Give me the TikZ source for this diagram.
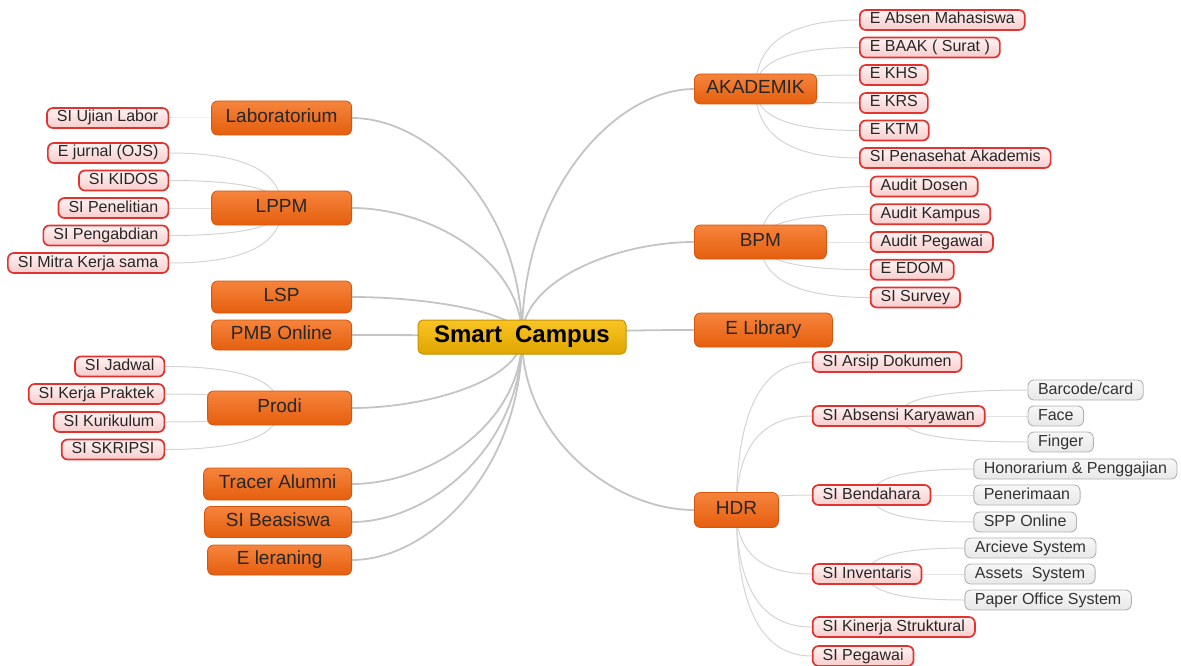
\documentclass[tikz,border=0pt]{standalone}
\usepackage{fontspec}
\setmainfont{Liberation Sans}
\usetikzlibrary{positioning,backgrounds,calc}

\definecolor{orangetop}{HTML}{F6843C}
\definecolor{orangebot}{HTML}{E55E0E}
\definecolor{orangeline}{HTML}{D5560B}
\definecolor{goldtop}{HTML}{F8C524}
\definecolor{goldbot}{HTML}{E0A500}
\definecolor{goldline}{HTML}{C69200}
\definecolor{leafred}{HTML}{E2332F}
\definecolor{leaftop}{HTML}{FFF2F2}
\definecolor{leafbot}{HTML}{F7CDCD}
\definecolor{twiggrey}{HTML}{D4D4D4}
\definecolor{limbgrey}{HTML}{C4C4C4}

\tikzset{
  hub/.style={draw=goldline, line width=1pt, rounded corners=5pt,
    top color=goldtop, bottom color=goldbot,
    font=\fontsize{24}{27}\selectfont\bfseries,
    minimum width=208pt, minimum height=34pt},
  topic/.style={draw=orangeline, line width=0.8pt, rounded corners=6pt,
    top color=orangetop, bottom color=orangebot, text=black!85,
    font=\fontsize{19}{21}\selectfont, minimum height=32pt,
    text height=13.5pt, text depth=4pt, inner xsep=12pt},
  leaf/.style={draw=leafred, line width=1.7pt, rounded corners=6pt,
    top color=leaftop, bottom color=leafbot, text=black!85,
    font=\fontsize{16}{18}\selectfont, minimum height=20pt,
    text height=11.5pt, text depth=3.5pt, inner ysep=1pt, inner xsep=10pt},
  subleaf/.style={leaf, draw=black!30, line width=0.9pt,
    top color=black!3, bottom color=black!9, text=black!80},
  limb/.style={draw=limbgrey, line width=1.8pt,
    to path={.. controls ($(\tikztostart)!.6!(\tikztostart |- \tikztotarget)$)
      and ($(\tikztotarget)!.45!(\tikztostart |- \tikztotarget)$) .. (\tikztotarget)}},
  twig/.style={draw=twiggrey, line width=1pt,
    to path={.. controls ($(\tikztostart)!.667!(\tikztostart |- \tikztotarget)$)
      and ($(\tikztotarget)!.667!(\tikztostart |- \tikztotarget)$) .. (\tikztotarget)}}
}

\begin{document}
\begin{tikzpicture}[x=1pt, y=-1pt, node distance=42pt]
  \useasboundingbox (0,0) rectangle (1181,666);

  \node[hub] (hub) at (522,337) {Smart\hspace{13pt}Campus};

  % left topics
  \node[topic, anchor=east, minimum width=140pt, minimum height=34pt] (lab) at (352,118) {Laboratorium};
  \node[topic, anchor=east, minimum width=140pt, minimum height=34pt] (lppm) at (352,208) {LPPM};
  \node[topic, anchor=east, minimum width=140pt] (lsp) at (352,297) {LSP};
  \node[topic, anchor=east, minimum width=140pt, minimum height=30pt] (pmb) at (352,335) {PMB Online};
  \node[topic, anchor=east, minimum width=144pt, minimum height=34pt] (prodi) at (352,408) {Prodi};
  \node[topic, anchor=east, minimum width=148pt] (tracer) at (352,484) {Tracer Alumni};
  \node[topic, anchor=east, minimum width=147pt, minimum height=31pt] (beasiswa) at (352,522) {SI Beasiswa};
  \node[topic, anchor=east, minimum width=144pt, minimum height=30pt] (elearn) at (352,560) {E leraning};

  % right topics
  \node[topic, anchor=west, minimum width=118pt, minimum height=30pt] (akad) at (694,89) {AKADEMIK};
  \node[topic, anchor=west, minimum width=132pt, minimum height=34pt] (bpm) at (694,242) {BPM};
  \node[topic, anchor=west, minimum width=138pt, minimum height=34pt] (elib) at (694,330) {E Library};
  \node[topic, anchor=west, minimum width=84pt, minimum height=35pt] (hdr) at (694,510) {HDR};

  % Laboratorium
  \node[leaf, left=of lab] (ujian) {SI Ujian Labor};

  % LPPM
  \node[leaf, left=of lppm, yshift=55pt] (ojs) {E jurnal (OJS)};
  \node[leaf, left=of lppm, yshift=27.5pt] (kidos) {SI KIDOS};
  \node[leaf, left=of lppm] (penelitian) {SI Penelitian};
  \node[leaf, left=of lppm, yshift=-27.5pt] (pengabdian) {SI Pengabdian};
  \node[leaf, left=of lppm, yshift=-55pt] (mitra) {SI Mitra Kerja sama};

  % Prodi
  \node[leaf, left=of prodi, yshift=41.5pt] (jadwal) {SI Jadwal};
  \node[leaf, left=of prodi, yshift=14pt] (kp) {SI Kerja Praktek};
  \node[leaf, left=of prodi, yshift=-14pt] (kurikulum) {SI Kurikulum};
  \node[leaf, left=of prodi, yshift=-41.5pt] (skripsi) {SI SKRIPSI};

  % AKADEMIK
  \node[leaf, right=of akad, yshift=69pt] (absen) {E Absen Mahasiswa};
  \node[leaf, right=of akad, yshift=41.5pt] (baak) {E BAAK ( Surat )};
  \node[leaf, right=of akad, yshift=14pt] (khs) {E KHS};
  \node[leaf, right=of akad, yshift=-14pt] (krs) {E KRS};
  \node[leaf, right=of akad, yshift=-41.5pt] (ktm) {E KTM};
  \node[leaf, right=of akad, yshift=-69pt] (pa) {SI Penasehat Akademis};

  % BPM
  \node[leaf, right=43pt of bpm, yshift=55.5pt] (adosen) {Audit Dosen};
  \node[leaf, right=43pt of bpm, yshift=27.75pt] (akampus) {Audit Kampus};
  \node[leaf, right=43pt of bpm] (apegawai) {Audit Pegawai};
  \node[leaf, right=43pt of bpm, yshift=-27.75pt] (edom) {E EDOM};
  \node[leaf, right=43pt of bpm, yshift=-55.5pt] (survey) {SI Survey};

  % HDR
  \node[leaf, right=33pt of hdr, yshift=148pt] (arsip) {SI Arsip Dokumen};
  \node[leaf, right=33pt of hdr, yshift=94pt] (absensi) {SI Absensi Karyawan};
  \node[leaf, right=33pt of hdr, yshift=15pt] (bendahara) {SI Bendahara};
  \node[leaf, right=33pt of hdr, yshift=-64pt] (inventaris) {SI Inventaris};
  \node[leaf, right=33pt of hdr, yshift=-117pt] (kinerja) {SI Kinerja Struktural};
  \node[leaf, right=33pt of hdr, yshift=-146pt] (pegawai) {SI Pegawai};

  \node[subleaf, right=of absensi, yshift=26pt] (barcode) {Barcode/card};
  \node[subleaf, right=of absensi] (face) {Face};
  \node[subleaf, right=of absensi, yshift=-26pt] (finger) {Finger};

  \node[subleaf, right=of bendahara, yshift=26pt] (honor) {Honorarium \& Penggajian};
  \node[subleaf, right=of bendahara] (terima) {Penerimaan};
  \node[subleaf, right=of bendahara, yshift=-27pt] (spp) {SPP Online};

  \node[subleaf, right=of inventaris, yshift=26pt] (arcieve) {Arcieve System};
  \node[subleaf, right=of inventaris] (assets) {Assets~~System};
  \node[subleaf, right=of inventaris, yshift=-26pt] (paper) {Paper Office System};

  \begin{pgfonlayer}{background}
    \foreach \t in {lab,lppm,lsp,pmb,prodi,tracer,beasiswa,elearn}
      \path (hub.center) edge[limb] (\t.east);
    \foreach \t in {akad,bpm,elib,hdr}
      \path (hub.center) edge[limb] (\t.west);

    \path (lab.center) edge[twig] (ujian.east);
    \foreach \t in {ojs,kidos,penelitian,pengabdian,mitra}
      \path (lppm.center) edge[twig] (\t.east);
    \foreach \t in {jadwal,kp,kurikulum,skripsi}
      \path (prodi.center) edge[twig] (\t.east);
    \foreach \t in {absen,baak,khs,krs,ktm,pa}
      \path (akad.center) edge[twig] (\t.west);
    \foreach \t in {adosen,akampus,apegawai,edom,survey}
      \path (bpm.center) edge[twig] (\t.west);
    \foreach \t in {arsip,absensi,bendahara,inventaris,kinerja,pegawai}
      \path (hdr.center) edge[twig] (\t.west);
    \foreach \t in {barcode,face,finger}
      \path (absensi.center) edge[twig] (\t.west);
    \foreach \t in {honor,terima,spp}
      \path (bendahara.center) edge[twig] (\t.west);
    \foreach \t in {arcieve,assets,paper}
      \path (inventaris.center) edge[twig] (\t.west);
  \end{pgfonlayer}
\end{tikzpicture}
\end{document}
